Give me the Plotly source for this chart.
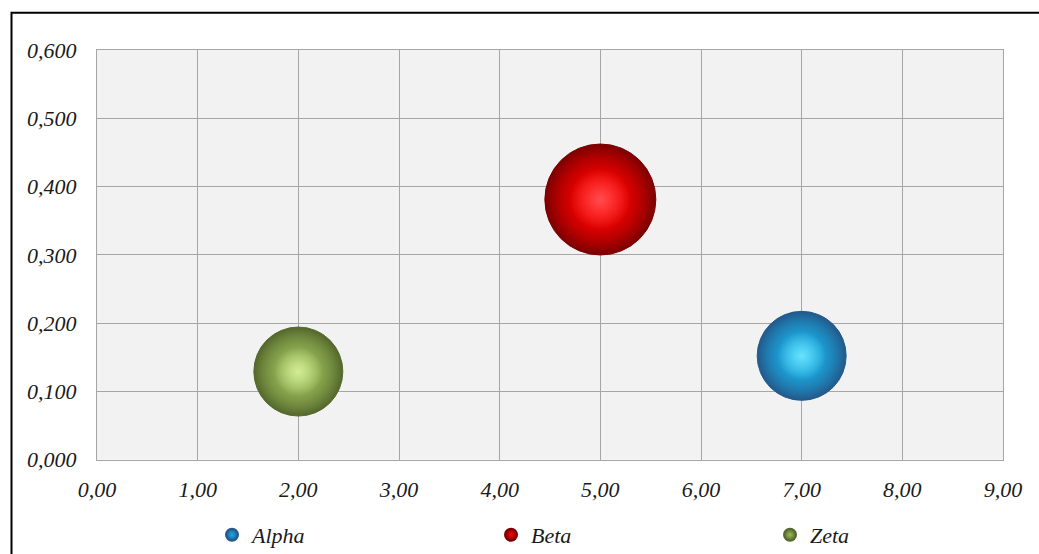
import plotly.graph_objects as go

series_names = ["Alpha", "Beta", "Zeta"]
x_values = [7.0, 5.0, 2.0]
y_values = [0.152, 0.381, 0.129]
bubble_sizes = [18, 28, 18]

x_ticks = [0, 1, 2, 3, 4, 5, 6, 7, 8, 9]
y_ticks = [0.0, 0.1, 0.2, 0.3, 0.4, 0.5, 0.6]

base_rgb = [(25, 174, 230), (255, 0, 0), (155, 187, 89)]
highlight_rgb = [(120, 235, 255), (255, 90, 90), (222, 245, 160)]
edge_rgb = [(35, 90, 140), (125, 0, 0), (85, 105, 45)]


def rgba(c, a=1.0):
    return "rgba(%d,%d,%d,%.2f)" % (c[0], c[1], c[2], a)


FONT = dict(family="Liberation Serif, Times New Roman, serif", size=22, color="#1a1a1a", style="italic")

max_d = 111
sizeref = 2.0 * max(bubble_sizes) / (max_d ** 2)

fig = go.Figure()
# sphere body: center base colour -> dark edge
for i, name in enumerate(series_names):
    fig.add_trace(go.Scatter(
        x=[x_values[i]], y=[y_values[i]], mode="markers", name=name,
        marker=dict(size=[bubble_sizes[i]], sizemode="area", sizeref=sizeref,
                    color=rgba(edge_rgb[i]), opacity=1,
                    gradient=dict(type="radial", color=rgba(base_rgb[i])),
                    line=dict(width=1, color=rgba(edge_rgb[i]))),
        showlegend=True,
    ))
# brighten the body
for i, name in enumerate(series_names):
    fig.add_trace(go.Scatter(
        x=[x_values[i]], y=[y_values[i]], mode="markers", name=name,
        marker=dict(size=[bubble_sizes[i] * 0.93], sizemode="area", sizeref=sizeref,
                    color=rgba(base_rgb[i], 0), opacity=1,
                    gradient=dict(type="radial", color=rgba(base_rgb[i])),
                    line=dict(width=0)),
        showlegend=False, hoverinfo="skip",
    ))
# highlight
for i, name in enumerate(series_names):
    fig.add_trace(go.Scatter(
        x=[x_values[i]], y=[y_values[i]], mode="markers", name=name,
        marker=dict(size=[bubble_sizes[i] * 0.3], sizemode="area", sizeref=sizeref,
                    color=rgba(highlight_rgb[i], 0), opacity=1,
                    gradient=dict(type="radial", color=rgba(highlight_rgb[i], 0.85)),
                    line=dict(width=0)),
        showlegend=False, hoverinfo="skip",
    ))

# plot area in px: x 97..1003, y 50..461
pw, ph = 906, 411
fig.add_shape(type="rect", xref="paper", yref="paper",
              x0=(11.5 - 97) / pw, x1=(1060 - 97) / pw,
              y0=(461 - 580) / ph, y1=(461 - 12.5) / ph,
              line=dict(color="black", width=2), fillcolor="rgba(0,0,0,0)", layer="below")

fig.update_layout(
    width=1039, height=554,
    margin=dict(l=97, r=36, t=50, b=93),
    paper_bgcolor="white", plot_bgcolor="#f2f2f2",
    separators=",.",
    font=FONT,
    showlegend=True,
    legend=dict(orientation="h", xref="container", yref="container",
                x=212 / 1039, xanchor="left", y=1 - 514 / 554, yanchor="top",
                entrywidth=234, entrywidthmode="pixels",
                font=FONT, itemsizing="constant", bgcolor="rgba(0,0,0,0)"),
)
fig.update_xaxes(range=[0, 9], tickmode="array", tickvals=x_ticks,
                 ticktext=["<i>%s</i>" % ("%.2f" % v).replace(".", ",") for v in x_ticks],
                 showgrid=True, gridcolor="#a6a6a6", gridwidth=1,
                 showline=True, linecolor="#a6a6a6", linewidth=1, mirror=True,
                 zeroline=False, ticks="", ticklabelstandoff=10, tickfont=FONT)
fig.update_yaxes(range=[0, 0.6], tickmode="array", tickvals=y_ticks,
                 ticktext=["<i>%s</i>" % ("%.3f" % v).replace(".", ",") for v in y_ticks],
                 showgrid=True, gridcolor="#a6a6a6", gridwidth=1,
                 showline=True, linecolor="#a6a6a6", linewidth=1, mirror=True,
                 zeroline=False, ticks="", ticklabelstandoff=15, tickfont=FONT)

fig.write_html("out.html")
